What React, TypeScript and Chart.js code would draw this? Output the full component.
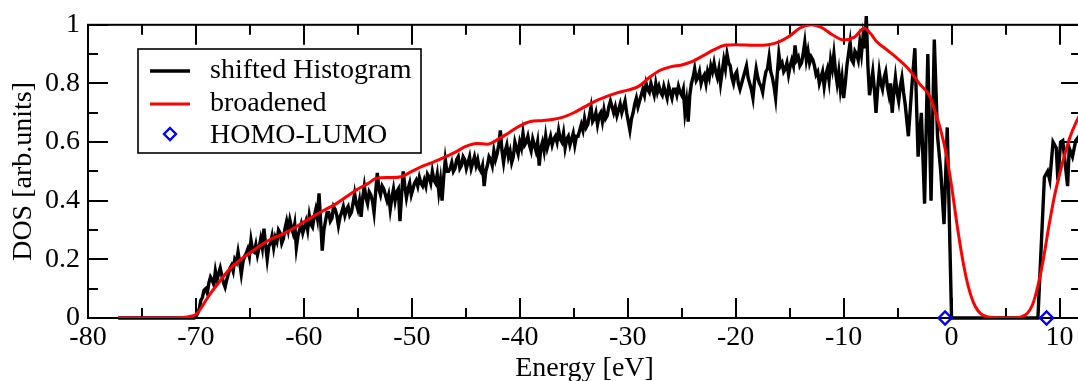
import { useEffect, useRef } from 'react';
import { Chart, registerables } from 'chart.js';

Chart.register(...registerables);

// Axis ranges and tick positions
const X_MIN = -80;
const X_MAX = 12;
const Y_MIN = 0;
const Y_MAX = 1;
const X_MAJOR = [-80, -70, -60, -50, -40, -30, -20, -10, 0, 10];
const X_MINOR = [-75, -65, -55, -45, -35, -25, -15, -5, 5];
const Y_MAJOR = [0, 0.2, 0.4, 0.6, 0.8, 1];
const Y_MINOR = [0.1, 0.3, 0.5, 0.7, 0.9];

// Series labels
const LABEL_HIST = 'shifted Histogram';
const LABEL_BROAD = 'broadened';
const LABEL_HL = 'HOMO-LUMO';

// Histogram: empty leading range, valence band bins, gap, conduction band
const HIST_LEAD_E = [-77.2, -70.6];
const HIST_BIN_START = -70.3;
const HIST_BIN_WIDTH = 0.3;
// values at -70.3 + 0.3 i
const HIST_VALENCE = [
  0.0, 0.005, 0.03, 0.07, 0.1, 0.12, 0.13, 0.16, 0.15, 0.145,
  0.105, 0.15, 0.18, 0.2, 0.225, 0.15, 0.21, 0.235, 0.265, 0.225,
  0.215, 0.27, 0.305, 0.2, 0.255, 0.24, 0.26, 0.29, 0.27, 0.33,
  0.335, 0.29, 0.24, 0.3, 0.29, 0.33, 0.35, 0.31, 0.37, 0.425,
  0.23, 0.33, 0.36, 0.34, 0.37, 0.315, 0.36, 0.35, 0.38, 0.36,
  0.425, 0.37, 0.345, 0.45, 0.39, 0.42, 0.36, 0.495, 0.42, 0.44,
  0.4, 0.37, 0.44, 0.43, 0.33, 0.5, 0.41, 0.46, 0.44, 0.47,
  0.48, 0.45, 0.45, 0.48, 0.5, 0.46, 0.43, 0.4, 0.54, 0.5,
  0.53, 0.51, 0.55, 0.52, 0.54, 0.53, 0.51, 0.55, 0.54, 0.5,
  0.45, 0.52, 0.54, 0.57, 0.56, 0.64, 0.53, 0.59, 0.57, 0.55,
  0.58, 0.6, 0.63, 0.6, 0.59, 0.61, 0.57, 0.52, 0.6, 0.62,
  0.6, 0.59, 0.62, 0.64, 0.6, 0.58, 0.62, 0.61, 0.59, 0.62,
  0.66, 0.68, 0.66, 0.72, 0.68, 0.66, 0.7, 0.71, 0.69, 0.74,
  0.7, 0.69, 0.73, 0.72, 0.7, 0.64, 0.7, 0.75, 0.74, 0.78,
  0.8, 0.77, 0.78, 0.8, 0.79, 0.76, 0.77, 0.79, 0.75, 0.78,
  0.79, 0.76, 0.7, 0.67, 0.8, 0.85, 0.82, 0.8, 0.83, 0.84,
  0.86, 0.87, 0.82, 0.8, 0.88, 0.9, 0.86, 0.8, 0.84, 0.78,
  0.82, 0.86, 0.8, 0.75, 0.85, 0.8, 0.77, 0.84, 0.89, 0.82,
  0.75, 0.9, 0.87, 0.85, 0.83, 0.88, 0.93, 0.89, 0.87, 0.94,
  0.91, 0.89, 0.86, 0.84, 0.82, 0.79, 0.85, 0.88, 0.9, 0.8,
  0.78, 0.75, 0.86, 0.94, 0.87, 0.9, 0.94, 0.96, 1.03, 0.76,
  0.84, 0.7, 0.84, 0.78, 0.84, 0.76, 0.7, 0.82, 0.74, 0.82,
  0.73, 0.62, 0.78, 0.92, 0.55, 0.7, 0.39, 0.9, 0.4, 0.95,
  0.62, 0.5, 0.32, 0.65,
];
// values at the half-bin positions -70.15 + 0.3 i (down to -4.45)
const HIST_VALENCE_HALF = [
  0.0, 0.015, 0.06, 0.095, 0.085, 0.14, 0.115, 0.13, 0.17, 0.12,
  0.13, 0.17, 0.16, 0.19, 0.19, 0.19, 0.22, 0.21, 0.23, 0.25,
  0.24, 0.24, 0.25, 0.245, 0.28, 0.275, 0.3, 0.255, 0.305, 0.3,
  0.31, 0.32, 0.28, 0.32, 0.31, 0.3, 0.32, 0.345, 0.34, 0.33,
  0.3, 0.36, 0.33, 0.38, 0.35, 0.345, 0.38, 0.37, 0.35, 0.39,
  0.39, 0.4, 0.41, 0.41, 0.43, 0.4, 0.43, 0.44, 0.45, 0.42,
  0.42, 0.41, 0.4, 0.44, 0.42, 0.45, 0.44, 0.42, 0.46, 0.45,
  0.46, 0.47, 0.49, 0.46, 0.47, 0.49, 0.47, 0.48, 0.5, 0.51,
  0.5, 0.54, 0.51, 0.55, 0.51, 0.55, 0.53, 0.52, 0.51, 0.52,
  0.5, 0.55, 0.52, 0.54, 0.59, 0.57, 0.57, 0.55, 0.53, 0.6,
  0.56, 0.58, 0.59, 0.62, 0.57, 0.59, 0.6, 0.58, 0.57, 0.58,
  0.62, 0.61, 0.6, 0.61, 0.63, 0.61, 0.59, 0.63, 0.62, 0.64,
  0.64, 0.65, 0.69, 0.67, 0.7, 0.69, 0.67, 0.68, 0.72, 0.72,
  0.72, 0.71, 0.7, 0.74, 0.67, 0.68, 0.73, 0.72, 0.76, 0.76,
  0.78, 0.8, 0.76, 0.77, 0.77, 0.79, 0.75, 0.77, 0.78, 0.76,
  0.77, 0.78, 0.74, 0.76, 0.82, 0.81, 0.84, 0.82, 0.8, 0.82,
  0.84, 0.84, 0.85, 0.84, 0.85, 0.87, 0.82, 0.83, 0.8, 0.8,
  0.84, 0.82, 0.78, 0.81, 0.82, 0.79, 0.81, 0.85, 0.84, 0.79,
  0.83, 0.86, 0.84, 0.87, 0.86, 0.86, 0.88, 0.86, 0.9, 0.88,
  0.87, 0.88, 0.83, 0.8, 0.84, 0.83, 0.81, 0.85, 0.84, 0.84,
  0.82, 0.8, 0.9, 0.88, 0.91, 0.88, 0.9, 0.92, 0.86, 0.8,
  0.78, 0.78, 0.8, 0.82, 0.79, 0.8, 0.77, 0.77, 0.79, 0.77,
];
const HIST_GAP_E = [0.0, 8.0];
const HIST_COND_E = [8.6, 8.9, 9.1, 9.4, 9.7, 9.85, 10.1, 10.3, 10.75, 10.9, 11.2, 11.5, 11.8, 12.0];
const HIST_COND_DOS = [0.48, 0.5, 0.47, 0.6, 0.58, 0.47, 0.6, 0.605, 0.45, 0.58, 0.55, 0.605, 0.62, 0.6];

// Gaussian-broadened DOS
const BROAD_E = [
  -77.2, -72, -71, -70.5, -70, -69.5, -69, -68.5, -68, -67.5, -67, -66.5, -66, -65.5, -65,
  -64, -63, -62, -61, -60, -59, -58, -57, -56, -55, -54, -53.3, -52, -51, -50,
  -49, -48, -47, -46, -45, -44, -43, -42, -41, -40, -39, -38, -37, -36, -35,
  -34, -33, -32, -31, -30, -29, -28, -27, -26, -25, -24, -23, -22, -21, -20,
  -19, -18, -17, -16, -15, -14, -13, -12, -11, -10, -9, -8.1, -7.5, -7, -6,
  -5, -4, -3, -2, -1.5, -1, -0.5, 0, 0.5, 1, 1.5, 2, 2.5, 3, 4,
  5, 6, 6.5, 7, 7.5, 8, 8.5, 9, 9.5, 10, 10.5, 11, 11.5, 12,
];
const BROAD_DOS = [
  0, 0, 0.003, 0.006, 0.012, 0.035, 0.065, 0.092, 0.115, 0.14, 0.162, 0.18, 0.195, 0.21, 0.222,
  0.248, 0.27, 0.285, 0.305, 0.328, 0.35, 0.37, 0.39, 0.415, 0.44, 0.46, 0.477, 0.479, 0.482, 0.5,
  0.518, 0.532, 0.548, 0.565, 0.585, 0.595, 0.593, 0.61, 0.632, 0.655, 0.67, 0.673, 0.677, 0.685, 0.7,
  0.72, 0.74, 0.755, 0.768, 0.777, 0.79, 0.82, 0.845, 0.857, 0.863, 0.875, 0.895, 0.915, 0.93, 0.932,
  0.931, 0.93, 0.932, 0.942, 0.962, 0.99, 1.0, 0.99, 0.965, 0.948, 0.958, 0.988, 0.97, 0.945, 0.915,
  0.885, 0.85, 0.8, 0.755, 0.7, 0.64, 0.56, 0.45, 0.32, 0.205, 0.115, 0.055, 0.022, 0.008, 0.001,
  0, 0.001, 0.005, 0.015, 0.045, 0.11, 0.2, 0.31, 0.41, 0.49, 0.56, 0.62, 0.665, 0.7,
];

// HOMO and LUMO levels
const HOMO_LUMO_E = [-0.6, 8.8];
const HOMO_LUMO_DOS = [0, 0];

const FONT_FAMILY = "'Liberation Serif', 'Times New Roman', serif";
const FONT_SIZE = 28;

function histogramPoints() {
  const pts: { x: number; y: number }[] = [];
  HIST_LEAD_E.forEach((e) => pts.push({ x: e, y: 0 }));
  HIST_VALENCE.forEach((v, i) => {
    const e = HIST_BIN_START + i * HIST_BIN_WIDTH;
    pts.push({ x: e, y: v });
    if (i < HIST_VALENCE_HALF.length) {
      pts.push({ x: e + HIST_BIN_WIDTH / 2, y: HIST_VALENCE_HALF[i] });
    }
  });
  HIST_GAP_E.forEach((e) => pts.push({ x: e, y: 0 }));
  HIST_COND_E.forEach((e, i) => pts.push({ x: e, y: HIST_COND_DOS[i] }));
  return pts;
}

// Box with ticks pointing inwards on all four sides
const framePlugin = {
  id: 'frame',
  beforeDatasetsDraw(chart: any) {
    const { ctx, chartArea: a, scales } = chart;
    const xs = scales.x;
    const ys = scales.y;
    ctx.save();
    ctx.strokeStyle = '#000';
    ctx.lineWidth = 2;
    ctx.beginPath();
    const vTicks = (vals: number[], len: number) => {
      vals.forEach((v) => {
        const px = Math.round(xs.getPixelForValue(v));
        ctx.moveTo(px, a.bottom);
        ctx.lineTo(px, a.bottom - len);
        ctx.moveTo(px, a.top);
        ctx.lineTo(px, a.top + len);
      });
    };
    const hTicks = (vals: number[], len: number) => {
      vals.forEach((v) => {
        const py = Math.round(ys.getPixelForValue(v));
        ctx.moveTo(a.left, py);
        ctx.lineTo(a.left + len, py);
        ctx.moveTo(a.right, py);
        ctx.lineTo(a.right - len, py);
      });
    };
    vTicks(X_MAJOR, 20);
    vTicks(X_MINOR, 10);
    hTicks(Y_MAJOR, 20);
    hTicks(Y_MINOR, 10);
    ctx.stroke();
    ctx.strokeRect(a.left, a.top, a.right - a.left, a.bottom - a.top);
    ctx.restore();
  },
};

// Boxed legend in the upper-left part of the plot
const legendPlugin = {
  id: 'boxLegend',
  afterDatasetsDraw(chart: any) {
    const { ctx } = chart;
    const ds = chart.data.datasets;
    const box = { x: 138, y: 49, w: 283, h: 104 };
    ctx.save();
    ctx.fillStyle = '#fff';
    ctx.fillRect(box.x, box.y, box.w, box.h);
    ctx.strokeStyle = '#000';
    ctx.lineWidth = 1.6;
    ctx.strokeRect(box.x, box.y, box.w, box.h);
    const rows = [71, 104, 134];
    const baselines = [78, 111, 143];
    ctx.font = `${FONT_SIZE}px ${FONT_FAMILY}`;
    ctx.textBaseline = 'alphabetic';
    ctx.textAlign = 'left';
    ds.forEach((d: any, i: number) => {
      const y = rows[i];
      if (d.showLine === false) {
        ctx.strokeStyle = d.pointBorderColor;
        ctx.lineWidth = d.pointBorderWidth;
        const r = 6;
        ctx.beginPath();
        ctx.moveTo(170, y - r);
        ctx.lineTo(170 + r, y);
        ctx.lineTo(170, y + r);
        ctx.lineTo(170 - r, y);
        ctx.closePath();
        ctx.stroke();
      } else {
        ctx.strokeStyle = d.borderColor;
        ctx.lineWidth = d.borderWidth;
        ctx.beginPath();
        ctx.moveTo(150, y);
        ctx.lineTo(190, y);
        ctx.stroke();
      }
      ctx.fillStyle = '#000';
      ctx.fillText(d.label, 210, baselines[i]);
    });
    ctx.restore();
  },
};

export default function App() {
  const canvasRef = useRef<HTMLCanvasElement | null>(null);

  useEffect(() => {
    const canvas = canvasRef.current;
    if (!canvas) return;
    Chart.defaults.font.family = FONT_FAMILY;
    Chart.defaults.color = '#000';

    const chart = new Chart(canvas, {
      type: 'line',
      data: {
        datasets: [
          {
            label: LABEL_HIST,
            data: histogramPoints(),
            borderColor: '#000000',
            borderWidth: 3.4,
            pointRadius: 0,
            tension: 0,
            clip: false as any,
            order: 2,
          },
          {
            label: LABEL_BROAD,
            data: BROAD_E.map((e, i) => ({ x: e, y: BROAD_DOS[i] })),
            borderColor: '#ff0000',
            borderWidth: 3,
            pointRadius: 0,
            cubicInterpolationMode: 'monotone',
            order: 1,
          },
          {
            label: LABEL_HL,
            data: HOMO_LUMO_E.map((e, i) => ({ x: e, y: HOMO_LUMO_DOS[i] })),
            showLine: false,
            pointStyle: 'rectRot',
            pointRadius: 6.5,
            pointBorderWidth: 2.4,
            pointBorderColor: '#0000ff',
            pointBackgroundColor: 'rgba(0,0,0,0)',
            borderColor: '#0000ff',
            clip: false as any,
            order: 0,
          },
        ],
      } as any,
      options: {
        animation: false,
        responsive: false,
        devicePixelRatio: 1,
        layout: { padding: { top: 18, left: 0, right: 8, bottom: 0 } },
        plugins: { legend: { display: false }, tooltip: { enabled: false } },
        scales: {
          x: {
            type: 'linear',
            min: X_MIN,
            max: X_MAX,
            grid: { display: false, drawTicks: false },
            border: { display: false },
            afterBuildTicks: (s: any) => {
              s.ticks = X_MAJOR.map((v) => ({ value: v }));
            },
            afterFit: (s: any) => {
              s.height = 63;
            },
            ticks: {
              autoSkip: false,
              maxRotation: 0,
              padding: 3,
              font: { size: FONT_SIZE, family: FONT_FAMILY },
              color: '#000',
              callback: (v: any) => String(v),
            },
            title: {
              display: true,
              text: 'Energy [eV]',
              font: { size: FONT_SIZE, family: FONT_FAMILY },
              color: '#000',
              padding: { top: 0, bottom: -4 },
            },
          },
          y: {
            type: 'linear',
            min: Y_MIN,
            max: Y_MAX,
            grid: { display: false, drawTicks: false },
            border: { display: false },
            afterBuildTicks: (s: any) => {
              s.ticks = Y_MAJOR.map((v) => ({ value: v }));
            },
            afterFit: (s: any) => {
              s.width = 88;
            },
            ticks: {
              autoSkip: false,
              padding: 8,
              font: { size: FONT_SIZE, family: FONT_FAMILY },
              color: '#000',
              callback: (v: any) => String(v),
            },
            title: {
              display: true,
              text: 'DOS [arb.units]',
              font: { size: FONT_SIZE, family: FONT_FAMILY },
              color: '#000',
              padding: { top: 6.5, bottom: 0 },
            },
          },
        },
      } as any,
      plugins: [framePlugin, legendPlugin],
    });
    return () => chart.destroy();
  }, []);

  return (
    <div
      style={{
        position: 'fixed',
        left: 0,
        top: 0,
        width: 1078,
        height: 381,
        overflow: 'hidden',
        background: '#fff',
      }}
    >
      <canvas ref={canvasRef} width={1090} height={381} style={{ display: 'block' }} />
    </div>
  );
}
